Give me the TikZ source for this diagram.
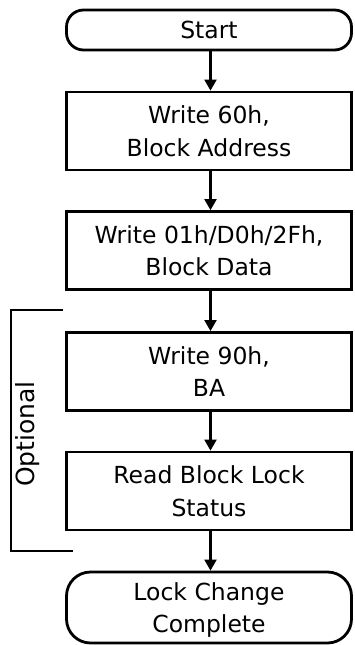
\documentclass[tikz,border=0pt]{standalone}
\usepackage{fontspec}
\setmainfont{DejaVu Sans}
\usetikzlibrary{arrows.meta}
\begin{document}
\begin{tikzpicture}[x=1pt,y=-1pt,
  every node/.style={font=\fontsize{23.5}{32.5}\selectfont, align=center, inner sep=0pt},
  procbox/.style={draw, line width=2.8pt, minimum width=285pt, minimum height=78pt},
  termbox/.style={draw, line width=2.8pt, minimum width=285pt, rounded corners=#1},
  flow/.style={-{Triangle[length=11pt,width=12pt]}, line width=2.1pt},
  bracketline/.style={line width=1.6pt}]
\useasboundingbox (0,0) rectangle (354,645);
\node[termbox=17pt, minimum height=40pt] (start) at (209,30) {Start};
\node[procbox] (b1) at (209,131) {Write 60h,\\Block Address};
\node[procbox] (b2) at (209,250.5) {Write 01h/D0h/2Fh,\\Block Data};
\node[procbox] (b3) at (209,371.5) {Write 90h,\\BA};
\node[procbox] (b4) at (209,491) {Read Block Lock\\Status};
\node[termbox=24pt, minimum height=71pt, text depth=0pt] (end) at (209,607.5) {Lock Change\\Complete};
\draw[flow] ([xshift=1.5pt]start.south) -- ([xshift=1.5pt]b1.north);
\draw[flow] ([xshift=1.5pt]b1.south) -- ([xshift=1.5pt]b2.north);
\draw[flow] ([xshift=1.5pt]b2.south) -- ([xshift=1.5pt]b3.north);
\draw[flow] ([xshift=1.5pt]b3.south) -- ([xshift=1.5pt]b4.north);
\draw[flow] ([xshift=1.5pt]b4.south) -- ([xshift=1.5pt]end.north);
\coordinate (bt) at (63,310);
\coordinate (btl) at (11,310);
\coordinate (bbl) at (11,551);
\coordinate (bb) at (73,551);
\draw[bracketline] (bt) -- (btl) -- (bbl) -- (bb);
\node[rotate=90, font=\fontsize{25}{30}\selectfont] (opt) at (28,434) {Optional};
\end{tikzpicture}
\end{document}
